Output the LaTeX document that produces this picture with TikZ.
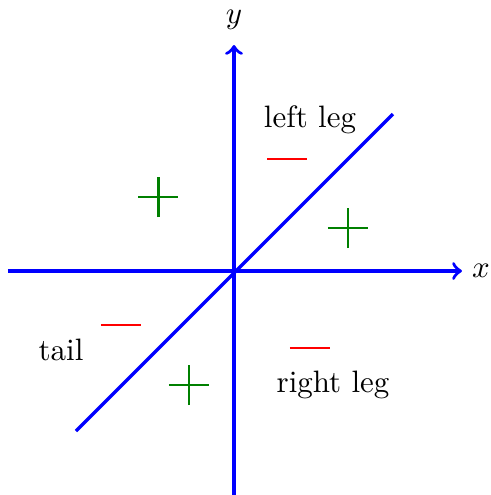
\documentclass[tikz,border=0pt]{standalone}
\begin{document}
\begin{tikzpicture}[x=0.323pt,y=-0.323pt,
  axis/.style={blue,line width=1.1pt},
  minus/.style={red,line width=0.9pt},
  plus/.style={green!50!black,line width=0.9pt},
  lbl/.style={inner sep=0pt}]
\useasboundingbox (0,0) rectangle (491,495);
\coordinate (O) at (234,271);
\coordinate (xl) at (8,271);
\coordinate (xr) at (462,271);
\coordinate (yb) at (234,495);
\coordinate (yt) at (234,45);
\coordinate (dl) at (76,431);
\coordinate (dr) at (393,114);
\draw[axis,->] (xl) -- (xr);
\draw[axis,->] (yb) -- (yt);
\draw[axis] (dl) -- (dr);
\node[lbl] (x) at (481,271) {$x$};
\node[lbl] (y) at (234,20) {$y$};
\node[lbl] (ll) at (310,120) {left leg};
\node[lbl] (rl) at (333,385) {right leg};
\node[lbl] (tl) at (61,350) {tail};
\coordinate (m1) at (287.5,159);
\coordinate (m2) at (121,325);
\coordinate (m3) at (310,348);
\foreach \m in {m1,m2,m3} \draw[minus] ([xshift=-20*0.323pt]\m) -- ([xshift=20*0.323pt]\m);
\coordinate (p1) at (158.5,197);
\coordinate (p2) at (348,228);
\coordinate (p3) at (189,385);
\foreach \p in {p1,p2,p3} {
  \draw[plus] ([xshift=-20*0.323pt]\p) -- ([xshift=20*0.323pt]\p);
  \draw[plus] ([yshift=-20*0.323pt]\p) -- ([yshift=20*0.323pt]\p);
}
\end{tikzpicture}
\end{document}
